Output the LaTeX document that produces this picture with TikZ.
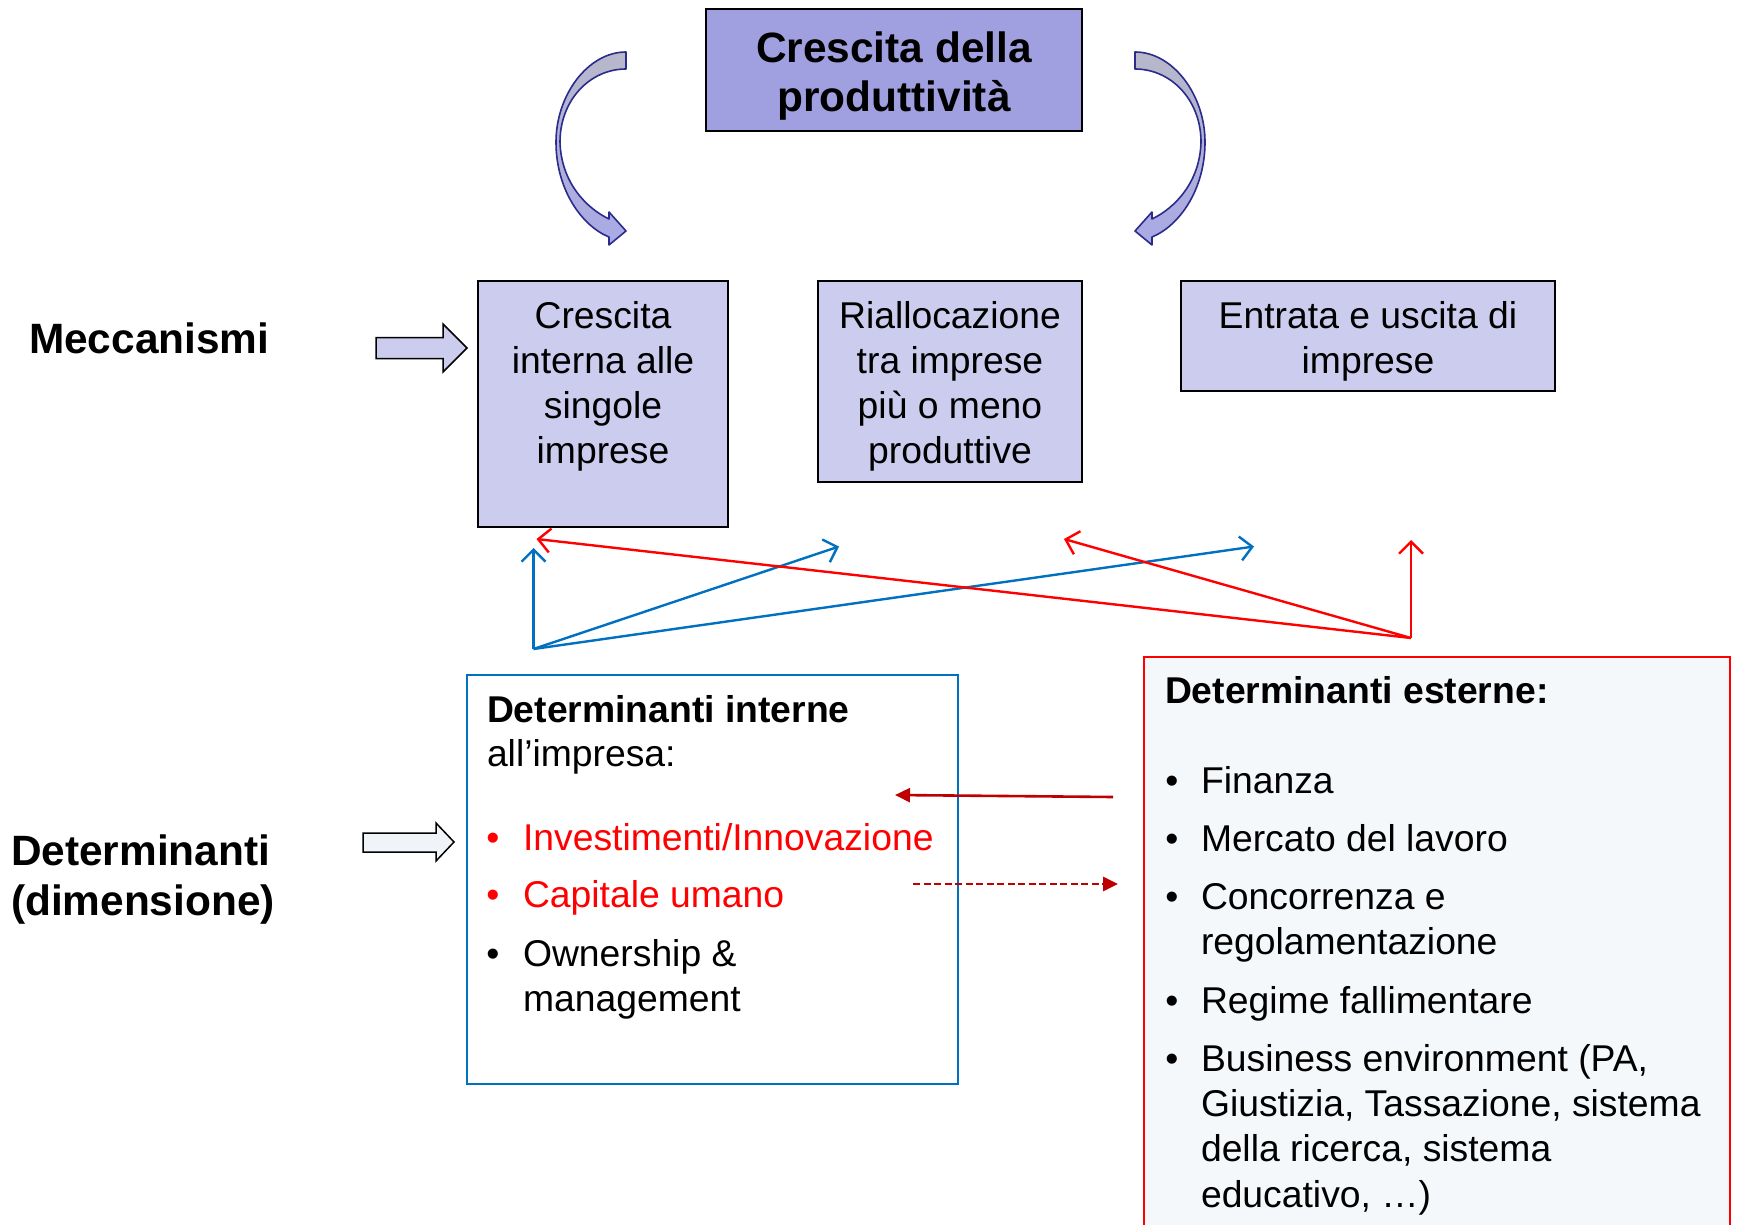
\documentclass[tikz,border=0pt]{standalone}
\usepackage{fontspec}
\setmainfont{Liberation Sans}
\usetikzlibrary{arrows.meta}
\definecolor{titlefill}{HTML}{A0A0E0}
\definecolor{boxfill}{HTML}{CCCCEE}
\definecolor{arrowline}{HTML}{2B2B8C}
\definecolor{arrowtop}{HTML}{B8B8CA}
\definecolor{arrowbot}{HTML}{A9A9E6}
\definecolor{lnblue}{HTML}{0070C0}
\definecolor{lnred}{HTML}{FF0000}
\definecolor{dkred}{HTML}{C00000}
\definecolor{extfill}{HTML}{F5F8FA}
\definecolor{detarrow}{HTML}{F0F4F8}
\begin{document}
\begin{tikzpicture}[x=1pt,y=-1pt,
  every node/.style={inner sep=0pt, outer sep=0pt},
  txt/.style={anchor=base, font=\fontsize{37.3}{45}\selectfont},
  txtl/.style={anchor=base west, font=\fontsize{37.3}{45}\selectfont},
  boldl/.style={anchor=base west, font=\fontsize{37.3}{45}\selectfont\bfseries},
  lbl/.style={anchor=base west, font=\fontsize{42.4}{50}\selectfont\bfseries},
  ttl/.style={anchor=base, font=\fontsize{42.4}{50}\selectfont\bfseries},
  mechbox/.style={draw=black, line width=1.8pt, fill=boxfill},
  titlebox/.style={draw=black, line width=1.8pt, fill=titlefill},
  curvearrow/.style={draw=arrowline, line width=1.6pt, top color=arrowtop, bottom color=arrowbot, line join=round},
  blockarrow/.style={draw=black, line width=1.5pt, line join=miter},
  bluecon/.style={draw=lnblue, line width=2.4pt, -{Straight Barb[length=12pt,width=24pt]}},
  redcon/.style={draw=lnred, line width=2.4pt, -{Straight Barb[length=12pt,width=24pt]}},
  dkcon/.style={draw=dkred, line width=2.6pt, -{Triangle[length=15pt,width=14pt]}}
]
\useasboundingbox (0,0) rectangle (1737,1225);
\fill[white] (0,0) rectangle (1737,1225);

% title
\node[titlebox, minimum width=376pt, minimum height=122pt] (t) at (894,70) {};
\node[ttl] (t1) at (894,63) {Crescita della};
\node[ttl] (t2) at (894,112) {produttività};

% curved arrows
\path[curvearrow] (626,52) .. controls (588,52) and (556,95) .. (556,142)
  .. controls (556,190) and (582,226) .. (609,237) -- (609,245) -- (626,231) -- (609,212) -- (609,219)
  .. controls (586,208) and (561,182) .. (560,142)
  .. controls (560,100) and (590,69) .. (626,69) -- cycle;
\begin{scope}[shift={(1761,0)}, xscale=-1]
\path[curvearrow] (626,52) .. controls (588,52) and (556,95) .. (556,142)
  .. controls (556,190) and (582,226) .. (609,237) -- (609,245) -- (626,231) -- (609,212) -- (609,219)
  .. controls (586,208) and (561,182) .. (560,142)
  .. controls (560,100) and (590,69) .. (626,69) -- cycle;
\end{scope}

% mechanism boxes
\node[mechbox, minimum width=250pt, minimum height=246pt] (m1) at (603,404) {};
\node[mechbox, minimum width=264pt, minimum height=201pt] (m2) at (950,381.5) {};
\node[mechbox, minimum width=374pt, minimum height=110pt] (m3) at (1368,336) {};
\node[txt] (m1a) at (603,328) {Crescita};
\node[txt] (m1b) at (603,373) {interna alle};
\node[txt] (m1c) at (603,418) {singole};
\node[txt] (m1d) at (603,463) {imprese};
\node[txt] (m2a) at (950,328) {Riallocazione};
\node[txt] (m2b) at (950,373) {tra imprese};
\node[txt] (m2c) at (950,418) {più o meno};
\node[txt] (m2d) at (950,463) {produttive};
\node[txt] (m3a) at (1368,328) {Entrata e uscita di};
\node[txt] (m3b) at (1368,373) {imprese};

% left labels and block arrows
\node[lbl] (lm) at (29,353) {Meccanismi};
\node[lbl] (ld1) at (11,865) {Determinanti};
\node[lbl] (ld2) at (11,915) {(dimensione)};
\path[blockarrow, fill=boxfill] (376,337.5) -- (443,337.5) -- (443,324) -- (467,348) -- (443,372) -- (443,358.5) -- (376,358.5) -- cycle;
\path[blockarrow, fill=detarrow] (363,833) -- (436,833) -- (436,823) -- (454,842) -- (436,861) -- (436,852) -- (363,852) -- cycle;

% determinant boxes
\node[draw=lnblue, line width=1.8pt, fill=white, minimum width=491pt, minimum height=409pt] (int) at (712.5,879.5) {};
\node[draw=lnred, line width=1.8pt, fill=extfill, minimum width=586pt, minimum height=620pt, anchor=north west] (ext) at (1144,657) {};

% interne text
\node[boldl] (ih1) at (487,722) {Determinanti interne};
\node[txtl] (ih2) at (487,766) {all’impresa:};
\node[txt, text=lnred] (ib1) at (493,850) {•};
\node[txtl, text=lnred] (ii1) at (523,850) {Investimenti/Innovazione};
\node[txt, text=lnred] (ib2) at (493,907) {•};
\node[txtl, text=lnred] (ii2) at (523,907) {Capitale umano};
\node[txt] (ib3) at (493,966) {•};
\node[txtl] (ii3) at (523,966) {Ownership \&};
\node[txtl] (ii4) at (523,1011) {management};

% esterne text
\node[boldl] (eh) at (1165,703) {Determinanti esterne:};
\node[txt] (eb1) at (1172,793) {•};
\node[txtl] (ee1) at (1201,793) {Finanza};
\node[txt] (eb2) at (1172,851) {•};
\node[txtl] (ee2) at (1201,851) {Mercato del lavoro};
\node[txt] (eb3) at (1172,909) {•};
\node[txtl] (ee3) at (1201,909) {Concorrenza e};
\node[txtl] (ee3b) at (1201,954) {regolamentazione};
\node[txt] (eb4) at (1172,1013) {•};
\node[txtl] (ee4) at (1201,1013) {Regime fallimentare};
\node[txt] (eb5) at (1172,1071) {•};
\node[txtl] (ee5) at (1201,1071) {Business environment (PA,};
\node[txtl] (ee5b) at (1201,1116) {Giustizia, Tassazione, sistema};
\node[txtl] (ee5c) at (1201,1161.5) {della ricerca, sistema};
\node[txtl] (ee5d) at (1201,1207) {educativo, …)};

% connectors
\coordinate (bo) at (533.5,649);
\coordinate (b1) at (533.5,548);
\coordinate (b2) at (839,546.5);
\coordinate (b3) at (1254,546.5);
\coordinate (ro) at (1411,638);
\coordinate (r1) at (536.5,539);
\coordinate (r2) at (1064,539);
\coordinate (r3) at (1411,540);
\draw[bluecon] (bo) -- (b1);
\draw[bluecon] (bo) -- (b2);
\draw[bluecon] (bo) -- (b3);
\draw[redcon] (ro) -- (r1);
\draw[redcon] (ro) -- (r2);
\draw[redcon] (ro) -- (r3);

\coordinate (da) at (1113,797);
\coordinate (db) at (895,795);
\coordinate (dc) at (913,884);
\coordinate (dd) at (1118,884);
\draw[dkcon] (da) -- (db);
\draw[dkcon, dash pattern=on 7pt off 3.5pt] (dc) -- (dd);
\end{tikzpicture}
\end{document}
